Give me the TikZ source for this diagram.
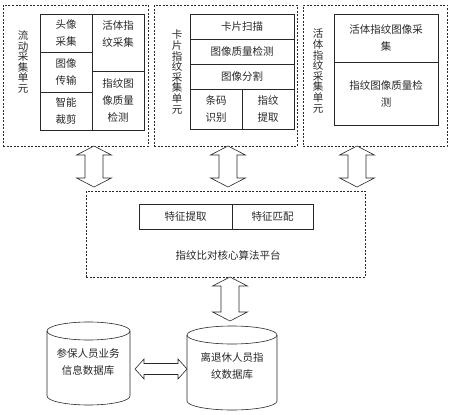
\documentclass[tikz,border=0pt]{standalone}
\usepackage{fontspec}
\newfontfamily\cjk{Noto Sans CJK SC}
\usetikzlibrary{calc}

\definecolor{traitcolor}{RGB}{40, 40, 40}

\tikzset{
  unitbox/.style={draw=traitcolor, dash pattern=on 2pt off 1.5pt, line width=0.5pt},
  txt/.style={font=\cjk\fontsize{10.5}{17}\selectfont, align=center, text=traitcolor},
  vtxt/.style={font=\cjk\fontsize{10.5}{10.6}\selectfont, align=center, text=traitcolor},
  cell/.style={txt, draw=traitcolor, line width=0.6pt, rectangle, inner sep=0pt},
  fatarrow/.style={draw=traitcolor, fill=white, line width=0.6pt, line join=miter},
  dbline/.style={draw=traitcolor, line width=0.6pt}
}

% double fleche verticale (haut, bas)
\newcommand{\fatv}[2]{%
  \draw[fatarrow] (#1) -- ($(#1)+(17.5,9)$) -- ($(#1)+(9,9)$) -- ($(#2)+(9,-9)$)
    -- ($(#2)+(17.5,-9)$) -- (#2) -- ($(#2)+(-17.5,-9)$) -- ($(#2)+(-9,-9)$)
    -- ($(#1)+(-9,9)$) -- ($(#1)+(-17.5,9)$) -- cycle;}
% double fleche horizontale (gauche, droite)
\newcommand{\fath}[2]{%
  \draw[fatarrow] (#1) -- ($(#1)+(9,-10)$) -- ($(#1)+(9,-5.5)$) -- ($(#2)+(-9,-5.5)$)
    -- ($(#2)+(-9,-10)$) -- (#2) -- ($(#2)+(-9,10)$) -- ($(#2)+(-9,5.5)$)
    -- ($(#1)+(9,5.5)$) -- ($(#1)+(9,10)$) -- cycle;}

\begin{document}
\begin{tikzpicture}[x=1pt, y=-1pt]
  \useasboundingbox (0,0) rectangle (450,415);

  % Unites de collecte
  \node[unitbox, minimum width=145, minimum height=141] (unitA) at (75.5,75.5) {};
  \node[unitbox, minimum width=143, minimum height=141] (unitB) at (225.5,75.5) {};
  \node[unitbox, minimum width=144, minimum height=141] (unitC) at (375,75.5) {};

  \node[vtxt] (labA) at (23,62) {流\\动\\采\\集\\单\\元};
  \node[vtxt] (labB) at (177,72) {卡\\片\\指\\纹\\采\\集\\单\\元};
  \node[vtxt] (labC) at (318,71) {活\\体\\指\\纹\\采\\集\\单\\元};

  % Unite mobile
  \node[cell, minimum width=52, minimum height=38] (txcj) at (66,33) {头像\\采集};
  \node[cell, minimum width=52, minimum height=40] (txcs) at (66,72) {图像\\传输};
  \node[cell, minimum width=52, minimum height=38] (zncj) at (66,111) {智能\\裁剪};
  \node[cell, minimum width=52, minimum height=57] (hzcj) at (118,42.5) {};
  \node[txt] (hzcjt) at (118,34) {活体指\\纹采集};
  \node[cell, minimum width=52, minimum height=59] (zwjc) at (118,100.5) {指纹图\\像质量\\检测};

  % Unite carte
  \node[cell, minimum width=104, minimum height=25] (kpsm) at (242,26.5) {卡片扫描};
  \node[cell, minimum width=104, minimum height=25] (zljc) at (242,51.5) {图像质量检测};
  \node[cell, minimum width=104, minimum height=25] (txfg) at (242,76.5) {图像分割};
  \node[cell, minimum width=52, minimum height=40] (tmsb) at (216,109) {条码\\识别};
  \node[cell, minimum width=52, minimum height=40] (zwtq) at (268,109) {指纹\\提取};

  % Unite doigt vivant
  \node[cell, minimum width=104, minimum height=48] (hzzw) at (386,38) {活体指纹图像采\\集};
  \node[cell, minimum width=104, minimum height=63] (zwzl) at (386,93.5) {指纹图像质量检\\测};

  % Plateforme
  \node[unitbox, minimum width=279, minimum height=86] (core) at (225.5,234) {};
  \node[cell, minimum width=93, minimum height=25] (tztq) at (185.5,216.5) {特征提取};
  \node[cell, minimum width=81, minimum height=25] (tzpp) at (272.5,216.5) {特征匹配};
  \node[txt] (coreLab) at (228,255) {指纹比对核心算法平台};

  % Bases de donnees
  \draw[dbline] (47,331) -- (47,396) arc[start angle=180, end angle=360, x radius=41.5pt, y radius=9pt] -- (130,331);
  \draw[dbline] (88.5,331) ellipse[x radius=41.5pt, y radius=9pt];
  \node[txt] (db1) at (88,362) {参保人员业务\\信息数据库};

  \draw[dbline] (187,335) -- (187,401) arc[start angle=180, end angle=360, x radius=45pt, y radius=9pt] -- (277,335);
  \draw[dbline] (232,335) ellipse[x radius=45pt, y radius=9pt];
  \node[txt] (db2) at (232,366) {离退休人员指\\纹数据库};

  % Fleches
  \coordinate (a1t) at (94,146);  \coordinate (a1b) at (94,187);
  \coordinate (a2t) at (228,146); \coordinate (a2b) at (228,187);
  \coordinate (a3t) at (357,146); \coordinate (a3b) at (357,187);
  \coordinate (a4t) at (230,277); \coordinate (a4b) at (230,321);
  \coordinate (h1l) at (135,369); \coordinate (h1r) at (187,369);
  \fatv{a1t}{a1b}
  \fatv{a2t}{a2b}
  \fatv{a3t}{a3b}
  \fatv{a4t}{a4b}
  \fath{h1l}{h1r}
\end{tikzpicture}
\end{document}
